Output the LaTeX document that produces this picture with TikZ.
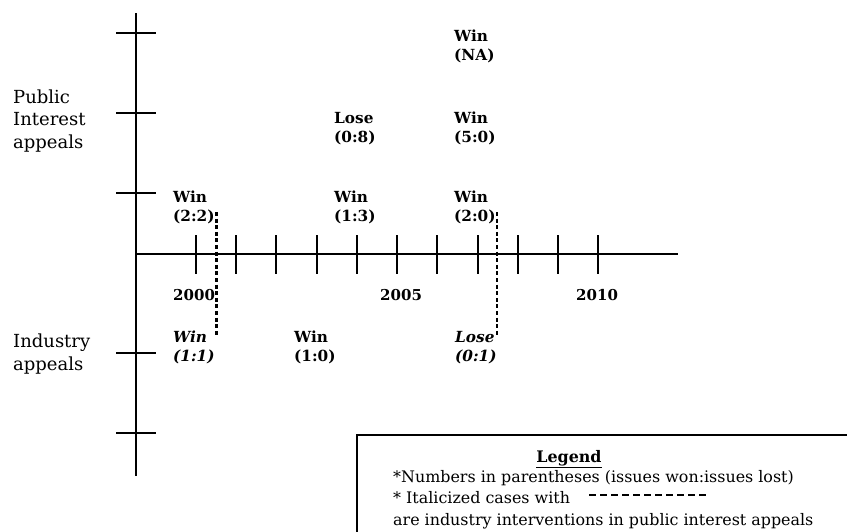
\documentclass[tikz,border=0pt]{standalone}
\usepackage{fontspec}
\setmainfont{DejaVu Serif}
\begin{document}
\begin{tikzpicture}[x=1pt,y=-1pt,
  axis/.style={line width=1.2pt},
  ind/.style={line width=2.4pt, dash pattern=on 4pt off 2.6pt},
  lab/.style={font=\fontsize{15.3}{19}\selectfont\bfseries, align=left, inner sep=0pt, anchor=base west},
  ilab/.style={font=\fontsize{15.3}{19}\selectfont\bfseries\itshape, align=left, inner sep=0pt, anchor=base west},
  yr/.style={font=\fontsize{15}{19}\selectfont\bfseries, inner sep=0pt, anchor=base west},
  side/.style={font=\fontsize{18}{22.4}\selectfont, align=left, inner sep=0pt, anchor=base west},
  leg/.style={font=\fontsize{15.9}{21.3}\selectfont, align=left, inner sep=0pt, anchor=base west}]
\useasboundingbox (0,0) rectangle (847,531);
% axes
\coordinate (vtop) at (136,13);
\coordinate (vbot) at (136,476);
\coordinate (hl) at (136,254);
\coordinate (hr) at (678,254);
\draw[axis] (vtop) -- (vbot);
\draw[axis] (hl) -- (hr);
\foreach \y in {33,113,193,353,433} \draw[axis] (116,\y) -- (156,\y);
\foreach \x in {196,236,276,317,357,397,437,478,518,558,598} \draw[axis] (\x,235) -- (\x,274);
% side labels (anchored at the baseline of the last line)
\node[side] (pia) at (13,148) {Public\\Interest\\appeals};
\node[side] (ia) at (13,370) {Industry\\appeals};
% years
\node[yr] (y2000) at (173,300) {2000};
\node[yr] (y2005) at (380,300) {2005};
\node[yr] (y2010) at (576,300) {2010};
% public interest labels
\node[lab] (p1) at (173,221) {Win\\(2:2)};
\node[lab] (p2) at (334,221) {Win\\(1:3)};
\node[lab] (p3) at (454,221) {Win\\(2:0)};
\node[lab] (p4) at (334,142) {Lose\\(0:8)};
\node[lab] (p5) at (454,142) {Win\\(5:0)};
\node[lab] (p6) at (454,60) {Win\\(NA)};
% industry labels
\node[ilab] (i1) at (173,361) {Win\\(1:1)};
\node[lab] (i2) at (294,361) {Win\\(1:0)};
\node[ilab] (i3) at (455,361) {Lose\\(0:1)};
% dashed interventions
\coordinate (d1a) at (216.5,212);
\coordinate (d1b) at (216.5,335);
\coordinate (d2a) at (497,212);
\coordinate (d2b) at (497,335);
\draw[ind] (d1a) -- (d1b);
\draw[ind] (d2a) -- (d2b);
% legend
\coordinate (lb) at (357,540);
\coordinate (ltl) at (357,435);
\coordinate (ltr) at (850,435);
\draw[axis] (lb) -- (ltl) -- (ltr);
\node[font=\fontsize{15.9}{21}\selectfont\bfseries, inner sep=0pt, anchor=base] (legt) at (569,462) {\underline{Legend}};
\node[leg] (legx) at (393,525) {*Numbers in parentheses (issues won:issues lost)\\* Italicized cases with\\are industry interventions in public interest appeals};
\coordinate (lda) at (589,495);
\coordinate (ldb) at (707,495);
\draw[line width=2.2pt, dash pattern=on 7pt off 4pt] (lda) -- (ldb);
\end{tikzpicture}
\end{document}
